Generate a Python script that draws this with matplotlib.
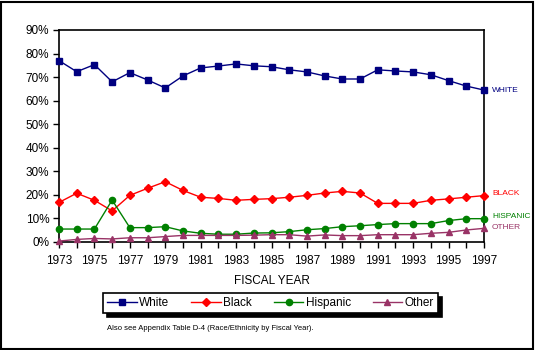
import matplotlib

matplotlib.use("Agg")
import matplotlib.pyplot as plt
from matplotlib.patches import Rectangle

YEARS = list(range(1973, 1998))
WHITE = [77.0, 72.3, 75.3, 68.0, 71.9, 68.8, 65.4, 70.5, 73.9, 74.7, 75.6, 74.8, 74.4,
         73.1, 72.2, 70.5, 69.2, 69.2, 73.1, 72.6, 72.2, 71.0, 68.5, 66.2, 64.5]
BLACK = [16.8, 20.7, 17.7, 13.2, 19.8, 22.8, 25.6, 21.9, 19.0, 18.5, 17.7, 18.1, 18.4,
         19.0, 19.8, 20.8, 21.5, 20.8, 16.4, 16.4, 16.4, 17.7, 18.3, 19.0, 19.7]
HISPANIC = [5.5, 5.5, 5.5, 17.8, 6.1, 6.1, 6.5, 4.7, 3.7, 3.3, 3.3, 3.8, 3.9,
            4.4, 5.2, 5.7, 6.5, 6.9, 7.4, 7.8, 7.8, 7.8, 9.1, 9.9, 9.9]
OTHER = [0.4, 1.1, 1.5, 1.3, 1.8, 1.8, 2.3, 2.8, 2.8, 2.8, 2.8, 2.9, 3.1,
         3.1, 2.5, 3.0, 2.7, 2.7, 3.1, 3.1, 3.1, 3.7, 4.1, 5.1, 5.8]

SERIES = [
    ("White", WHITE, "#000080", "s", 4.0, "WHITE"),
    ("Black", BLACK, "#ff0000", "D", 4.0, "BLACK"),
    ("Hispanic", HISPANIC, "#008000", "o", 4.5, "HISPANIC"),
    ("Other", OTHER, "#993366", "^", 4.5, "OTHER"),
]
END_LABEL_Y = {"WHITE": 64.5, "BLACK": 20.5, "HISPANIC": 11.0, "OTHER": 6.0}

plt.rcParams["font.family"] = ["Liberation Sans", "DejaVu Sans"]

W, H = 535, 350
fig = plt.figure(figsize=(W / 100, H / 100), dpi=100)
ax = fig.add_axes([59 / W, 1 - 242 / H, (484 - 59) / W, (242 - 30) / H])

for name, vals, color, marker, ms, _ in SERIES:
    ax.plot(YEARS, vals, color=color, marker=marker, markersize=ms, lw=1.0,
            label=name, clip_on=False, zorder=3)

ax.set_xlim(1973, 1997)
ax.set_ylim(0, 90)
ax.set_yticks(range(0, 91, 10))
ax.set_yticklabels([f"{v}%" for v in range(0, 91, 10)], fontsize=8.5)
ax.set_xticks(YEARS, minor=True)
ax.set_xticks(range(1973, 1998, 2))
ax.set_xticklabels([str(y) for y in range(1973, 1998, 2)], fontsize=8.5)
ax.tick_params(axis="both", which="both", direction="out", length=4, width=1)
ax.tick_params(axis="x", pad=5)
ax.tick_params(axis="y", pad=3)
for sp in ax.spines.values():
    sp.set_linewidth(1.2)
ax.set_xlabel("FISCAL YEAR", fontsize=8.5, labelpad=6)

for name, vals, color, marker, ms, tag in SERIES:
    ax.text(1997.45, END_LABEL_Y[tag], tag, color=color, fontsize=6.0,
            va="center", ha="left", clip_on=False)

handles, labels = ax.get_legend_handles_labels()
leg = fig.legend(handles, labels, loc="center",
                 bbox_to_anchor=(103 / W, 1 - 314 / H, 335 / W, 22 / H),
                 mode="expand", ncol=4, frameon=True, fancybox=False,
                 shadow={"color": "black", "alpha": 1.0, "ox": 3, "oy": -3},
                 edgecolor="black", framealpha=1.0, fontsize=8.5,
                 handlelength=2.5, handletextpad=0.2, borderaxespad=0,
                 borderpad=0.35)
leg.get_frame().set_linewidth(1.2)

fig.text(107 / W, 1 - 328 / H, "Also see Appendix Table D-4 (Race/Ethnicity by Fiscal Year).",
         fontsize=5.5, va="center", ha="left")

# outer border
fig.patches.append(Rectangle((0.5 / W, 1.5 / H), (W - 3) / W, (H - 3) / H,
                             transform=fig.transFigure, fill=False,
                             edgecolor="black", lw=1.5))

fig.savefig("out.png", dpi=100)
